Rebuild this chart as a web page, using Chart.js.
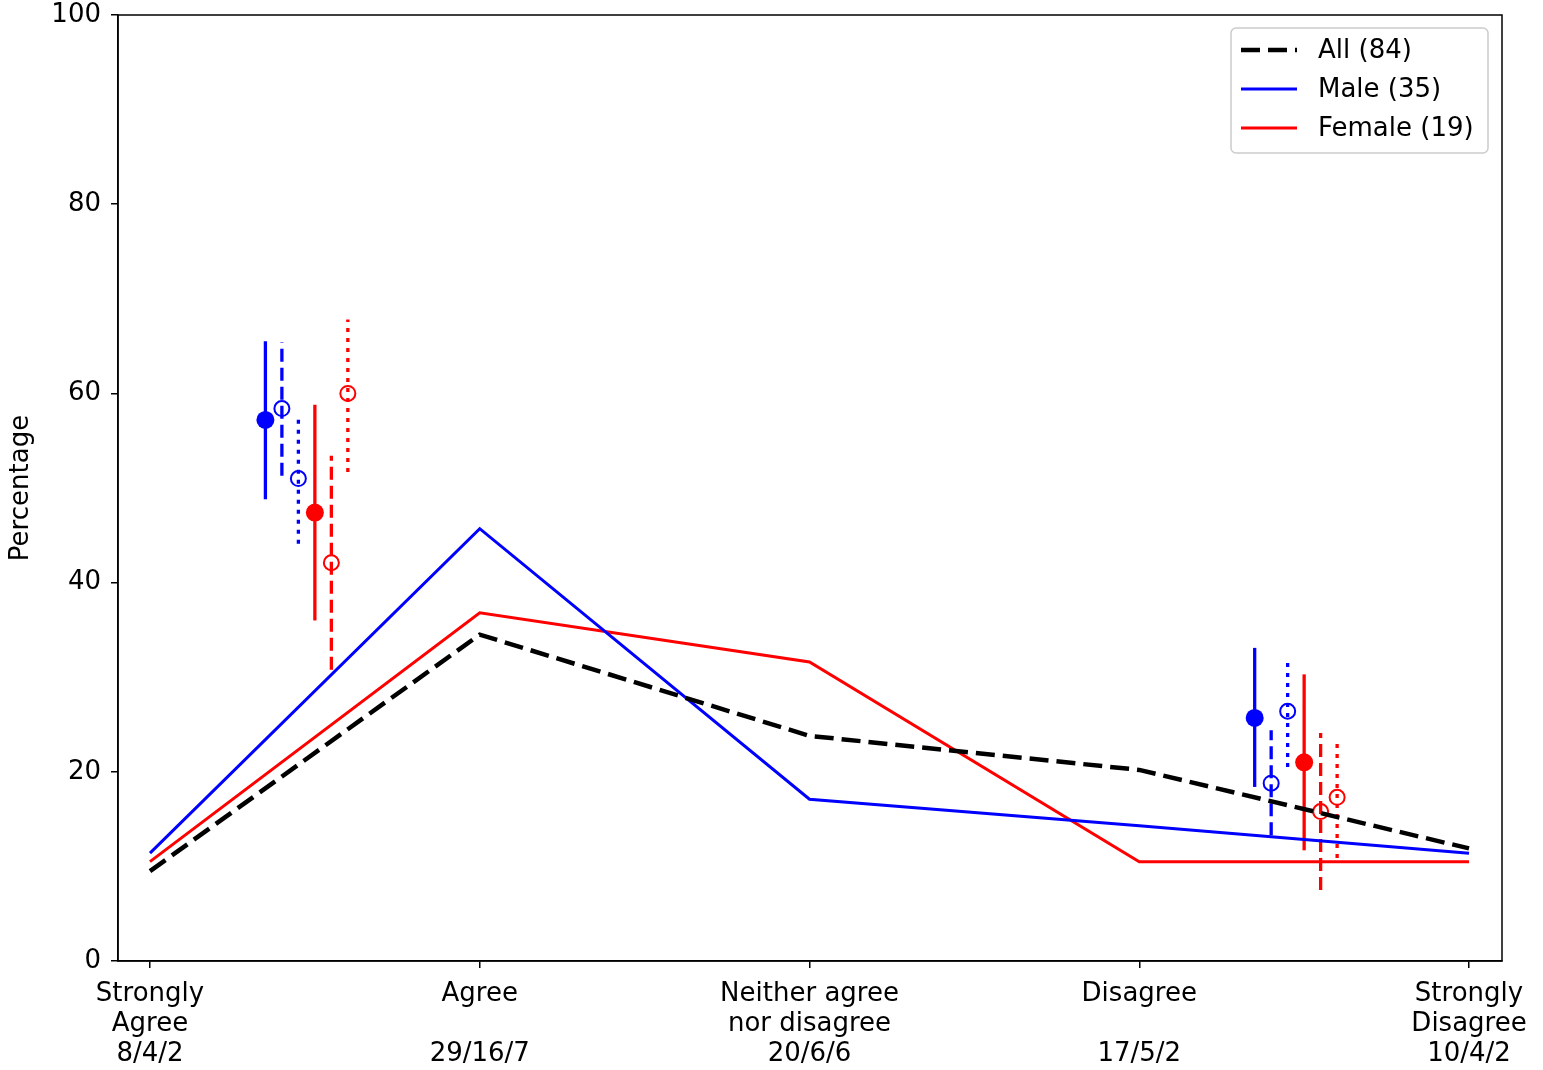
<!DOCTYPE html>
<html>
<head>
<meta charset="utf-8">
<script src="https://cdn.jsdelivr.net/npm/chart.js@4.4.1/dist/chart.umd.min.js"></script>
<style>
  body { margin: 0; background: #fff; }
  canvas { display: block; }
</style>
</head>
<body>
<canvas id="myChart" width="1543" height="1070"></canvas>
<script>
const tickValues = [0, 1, 2, 3, 4];
const tickLabels = [
  ["Strongly", "Agree", "8/4/2"],
  ["Agree", "", "29/16/7"],
  ["Neither agree", "nor disagree", "20/6/6"],
  ["Disagree", "", "17/5/2"],
  ["Strongly", "Disagree", "10/4/2"],
];
const legendLabels = ["All (84)", "Male (35)", "Female (19)"];

const allPct = [9.5, 34.5, 23.8, 20.2, 11.9];
const malePct = [11.4, 45.7, 17.1, 14.3, 11.4];
const femalePct = [10.5, 36.8, 31.6, 10.5, 10.5];

// error bars next to "Agree" and "Disagree"
const agreeX = [0.35, 0.4, 0.45, 0.5, 0.55, 0.6];
const agreeMid = [57.2, 58.4, 51.0, 47.4, 42.1, 60.0];
const agreeLo = [48.8, 51.3, 44.1, 36.0, 30.8, 51.7];
const agreeHi = [65.5, 65.4, 57.7, 58.8, 53.4, 67.8];

const disagreeX = [3.35, 3.4, 3.45, 3.5, 3.55, 3.6];
const disagreeMid = [25.7, 18.8, 26.4, 21.0, 15.8, 17.3];
const disagreeLo = [18.4, 13.3, 20.5, 11.7, 7.5, 10.9];
const disagreeHi = [33.1, 24.4, 31.9, 30.3, 24.1, 23.4];

const barStyles = [
  { color: "#0000ff", dash: [], filled: true },
  { color: "#0000ff", dash: [13, 6], filled: false },
  { color: "#0000ff", dash: [4, 6], filled: false },
  { color: "#ff0000", dash: [], filled: true },
  { color: "#ff0000", dash: [13, 6], filled: false },
  { color: "#ff0000", dash: [4, 6], filled: false },
];

Chart.defaults.font.family = "'DejaVu Sans', sans-serif";
Chart.defaults.font.size = 26;
Chart.defaults.color = "#000";

const toPoints = (vals) => vals.map((y, i) => ({ x: tickValues[i], y: y }));

const errorDatasets = (xs, mid, lo, hi) => {
  const out = [];
  xs.forEach((x, i) => {
    const s = barStyles[i];
    out.push({
      type: "line",
      data: [{ x: x, y: lo[i] }, { x: x, y: hi[i] }],
      borderColor: s.color,
      borderDash: s.dash,
      borderWidth: 3.3,
      pointRadius: 0,
      order: 2,
    });
    out.push({
      type: "line",
      showLine: false,
      data: [{ x: x, y: mid[i] }],
      pointRadius: s.filled ? 9 : 7.5,
      pointBackgroundColor: s.filled ? s.color : "rgba(0,0,0,0)",
      pointBorderColor: s.color,
      pointBorderWidth: s.filled ? 0 : 2,
      order: 1,
    });
  });
  return out;
};

const mainLines = [
  { label: legendLabels[0], data: toPoints(allPct), borderColor: "#000", borderDash: [19, 8], borderWidth: 4.5 },
  { label: legendLabels[1], data: toPoints(malePct), borderColor: "#0000ff", borderDash: [], borderWidth: 3 },
  { label: legendLabels[2], data: toPoints(femalePct), borderColor: "#ff0000", borderDash: [], borderWidth: 3 },
].map((d) => ({ ...d, pointRadius: 0, tension: 0, order: 0 }));

// axes box + matplotlib style legend in the corner
const frameAndLegend = {
  id: "frameAndLegend",
  afterDraw(chart) {
    const { ctx, chartArea: a } = chart;
    ctx.save();
    ctx.strokeStyle = "#000";
    ctx.lineWidth = 1.5;
    ctx.setLineDash([]);
    ctx.strokeRect(a.left, a.top, a.right - a.left, a.bottom - a.top);

    const bx = a.right - 271, by = a.top + 13, bw = 257, bh = 125;
    ctx.beginPath();
    ctx.roundRect(bx, by, bw, bh, 5);
    ctx.fillStyle = "rgba(255,255,255,0.8)";
    ctx.fill();
    ctx.strokeStyle = "#cccccc";
    ctx.lineWidth = 1.5;
    ctx.stroke();

    ctx.font = "26px 'DejaVu Sans'";
    ctx.textBaseline = "middle";
    ctx.textAlign = "left";
    mainLines.forEach((d, i) => {
      const y = by + 22 + i * 39;
      ctx.beginPath();
      ctx.setLineDash(d.borderDash);
      ctx.strokeStyle = d.borderColor;
      ctx.lineWidth = d.borderWidth;
      ctx.moveTo(bx + 10, y);
      ctx.lineTo(bx + 66, y);
      ctx.stroke();
      ctx.setLineDash([]);
      ctx.fillStyle = "#000";
      ctx.fillText(d.label, bx + 87, y + 1);
    });
    ctx.restore();
  },
};

new Chart(document.getElementById("myChart"), {
  type: "line",
  data: {
    datasets: [
      ...mainLines,
      ...errorDatasets(agreeX, agreeMid, agreeLo, agreeHi),
      ...errorDatasets(disagreeX, disagreeMid, disagreeLo, disagreeHi),
    ],
  },
  options: {
    responsive: false,
    animation: false,
    devicePixelRatio: 1,
    layout: { padding: { top: 15, right: 41, bottom: 0, left: 0 } },
    plugins: {
      legend: { display: false },
      tooltip: { enabled: false },
    },
    scales: {
      x: {
        type: "linear",
        min: -0.097,
        max: 4.1,
        afterBuildTicks: (scale) => {
          scale.ticks = tickValues.map((v) => ({ value: v }));
        },
        afterFit: (scale) => {
          scale.height = 109;
        },
        ticks: {
          autoSkip: false,
          maxRotation: 0,
          padding: 11,
          font: { size: 26, lineHeight: 1.16 },
          callback: (val, i) => tickLabels[i],
        },
        grid: { display: true, drawOnChartArea: false, drawTicks: true, tickLength: 7, color: "#000", lineWidth: 1.5 },
        border: { display: true, color: "#000", width: 1.5 },
      },
      y: {
        min: 0,
        max: 100,
        afterFit: (scale) => {
          scale.width = 118;
          scale.paddingTop = 0;
          scale.paddingBottom = 0;
        },
        ticks: { stepSize: 20, padding: 10, font: { size: 26, lineHeight: 1.15 } },
        grid: { display: true, drawOnChartArea: false, drawTicks: true, tickLength: 7, color: "#000", lineWidth: 1.5 },
        border: { display: true, color: "#000", width: 1.5 },
        title: { display: true, text: "Percentage", font: { size: 26 }, padding: { top: 6, bottom: 0 } },
      },
    },
  },
  plugins: [frameAndLegend],
});
</script>
</body>
</html>
